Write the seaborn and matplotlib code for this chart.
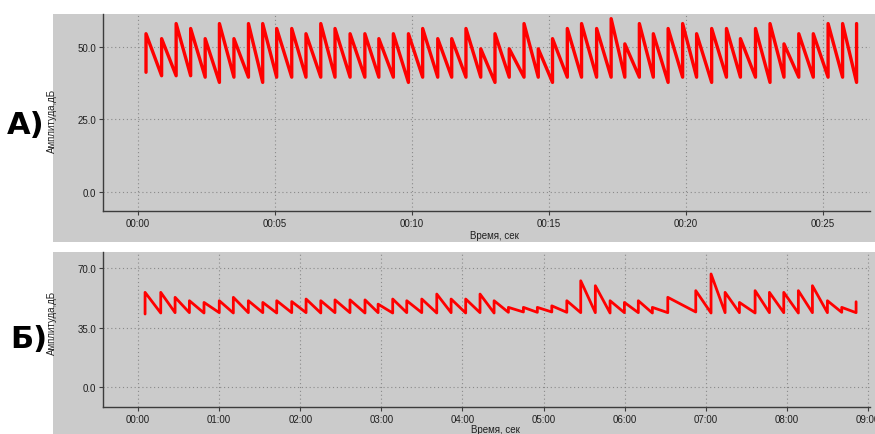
import pandas as pd
import matplotlib
matplotlib.use("Agg")
import matplotlib.pyplot as plt
import seaborn as sns
from matplotlib.patches import Rectangle
from matplotlib.ticker import FuncFormatter

# Panel A: recording over ~26 s (tooth start times, trough and peak levels, dB)
a_times = [0.29, 0.86, 1.39, 1.92, 2.45, 2.97, 3.50, 4.03, 4.55, 5.06,
           5.61, 6.13, 6.67, 7.19, 7.74, 8.28, 8.79, 9.32, 9.87, 10.39,
           10.94, 11.45, 11.97, 12.51, 13.03, 13.55, 14.09, 14.61, 15.13, 15.67,
           16.19, 16.74, 17.27, 17.77, 18.30, 18.81, 19.35, 19.88, 20.39, 20.94,
           21.48, 21.99, 22.54, 23.07, 23.58, 24.12, 24.65, 25.19, 25.72, 26.23]
a_peaks = [54.5, 52.8, 58.0, 56.3, 52.8, 58.0, 52.8, 58.0, 58.0, 56.3,
           56.3, 54.5, 58.0, 56.3, 54.5, 54.5, 52.8, 54.5, 54.5, 56.3,
           52.8, 52.8, 56.3, 49.3, 54.5, 49.3, 58.0, 49.3, 52.8, 56.3,
           58.0, 56.3, 59.7, 51.0, 58.0, 54.5, 56.3, 58.0, 54.5, 56.3,
           56.3, 52.8, 56.3, 58.0, 51.0, 54.5, 54.5, 58.0, 58.0, 58.0]
a_troughs = [41.2, 40.0, 40.0, 40.0, 39.5, 37.7, 39.5, 39.5, 37.7, 39.5,
             39.5, 39.5, 39.5, 39.5, 39.5, 39.5, 39.5, 39.5, 37.7, 39.5,
             39.5, 39.5, 39.5, 39.5, 37.7, 39.5, 39.5, 39.5, 37.7, 39.5,
             39.5, 39.5, 39.5, 39.5, 39.5, 39.5, 37.7, 39.5, 39.5, 37.7,
             39.5, 39.5, 39.5, 37.7, 39.5, 39.5, 39.5, 39.5, 39.5, 37.7]

# Panel B: recording over ~9 min (seconds)
b_times = [5.2, 16.8, 27.4, 38.0, 48.8, 60.1, 70.5, 81.6, 92.3, 102.6,
           113.7, 124.3, 135.2, 145.7, 156.8, 167.9, 177.6, 188.4, 198.8, 209.9,
           221.0, 231.6, 242.4, 253.0, 263.4, 274.0, 285.1, 295.4, 306.1, 317.2,
           327.5, 338.3, 349.2, 359.8, 370.1, 380.5, 391.9, 412.6, 423.9, 434.3,
           444.9, 456.5, 467.1, 477.7, 488.5, 498.9, 510.0, 520.6, 531.2]
b_peaks = [55.7, 55.7, 52.8, 50.8, 49.8, 50.8, 52.8, 50.8, 49.8, 50.8,
           50.3, 51.8, 50.8, 51.3, 51.3, 51.3, 48.8, 51.8, 50.8, 51.8,
           54.7, 51.8, 51.8, 54.7, 50.8, 46.9, 46.9, 46.9, 47.8, 50.8,
           62.5, 59.6, 50.8, 49.8, 50.8, 46.9, 52.8, 56.7, 66.5, 55.7,
           49.8, 56.7, 55.7, 55.7, 56.7, 59.6, 50.8, 46.9, 50.2]
b_troughs = [43.0, 43.6, 43.8, 43.8, 43.6, 43.8, 43.6, 43.8, 43.8, 43.6,
             43.8, 43.8, 43.6, 43.8, 43.8, 43.6, 43.8, 43.6, 43.8, 43.8,
             43.6, 43.8, 43.6, 43.8, 43.6, 44.0, 44.2, 44.0, 44.2, 44.0,
             43.8, 43.8, 43.6, 43.8, 43.8, 43.6, 43.8, 44.2, 43.6, 43.8,
             43.8, 43.6, 43.8, 43.8, 43.6, 43.8, 43.8, 44.0, 43.8]

a_xticks = [0, 5, 10, 15, 20, 25]
a_yticks = [0, 25, 50]
b_xticks = [0, 60, 120, 180, 240, 300, 360, 420, 480, 540]
b_yticks = [0, 35, 70]

y_label = "Амплитуда,дБ"
x_label = "Время, сек"

GRAY = "#cbcbcb"
RED = "#ff0000"
DARK = "#3c3c3c"
W, H = 875, 435


def sawtooth(times, troughs, peaks):
    t, y = [], []
    for ti, lo, hi in zip(times, troughs, peaks):
        t += [ti, ti]
        y += [lo, hi]
    return pd.DataFrame({"t": t, "amp": y})


def mmss(v, pos):
    v = int(round(v))
    return f"{v // 60:02d}:{v % 60:02d}"


sns.set_theme(style="white")
plt.rcParams["font.family"] = ["Liberation Sans", "DejaVu Sans"]

fig = plt.figure(figsize=(W / 100, H / 100), dpi=100, facecolor="white")

# gray panel backgrounds
for top, bot in [(15, 243), (253, 435)]:
    fig.add_artist(Rectangle((53 / W, 1 - bot / H), (W - 53) / W, (bot - top) / H,
                             transform=fig.transFigure, facecolor=GRAY,
                             edgecolor="none", zorder=0))


def px_axes(l, t, r, b):
    return fig.add_axes([l / W, 1 - b / H, (r - l) / W, (b - t) / H])


def style(ax, xticks, yticks, xlim, ylim, ylab_y, xlab_y):
    ax.set_facecolor(GRAY)
    ax.set_xlim(*xlim)
    ax.set_ylim(*ylim)
    ax.set_xticks(xticks)
    ax.set_yticks(yticks)
    ax.xaxis.set_major_formatter(FuncFormatter(mmss))
    ax.yaxis.set_major_formatter(FuncFormatter(lambda v, p: f"{v:.1f}"))
    ax.grid(True, color="#8a8a8a", linestyle=(0, (1, 2.5)), linewidth=0.8)
    for s in ["top", "right"]:
        ax.spines[s].set_visible(False)
    for s in ["left", "bottom"]:
        ax.spines[s].set_color(DARK)
        ax.spines[s].set_linewidth(1.0)
    ax.tick_params(labelsize=7, length=3, width=0.8, color=DARK,
                   labelcolor="#202020", pad=2, left=True, bottom=True)
    ax.set_ylabel(y_label, fontsize=7, color="#202020")
    ax.set_xlabel(x_label, fontsize=7, color="#202020")
    ax.yaxis.set_label_coords(-0.06, ylab_y)
    ax.xaxis.set_label_coords(0.511, xlab_y)


ax_a = px_axes(103, 15, 870, 211.7)
sns.lineplot(data=sawtooth(a_times, a_troughs, a_peaks), x="t", y="amp",
             sort=False, estimator=None, color=RED, linewidth=2.4, ax=ax_a)
style(ax_a, a_xticks, a_yticks, (-1.28, 26.72), (-6.55, 61.3), 0.46, -0.098)

ax_b = px_axes(103.3, 253.3, 870, 408.3)
sns.lineplot(data=sawtooth(b_times, b_troughs, b_peaks), x="t", y="amp",
             sort=False, estimator=None, color=RED, linewidth=2.0, ax=ax_b)
style(ax_b, b_xticks, b_yticks, (-25.7, 541.5), (-11.7, 79.2), 0.55, -0.106)

fig.text(26 / W, 1 - 125 / H, "А)", fontsize=22, fontweight="bold",
         color="black", ha="center", va="center",
         family=["DejaVu Sans"])
fig.text(29 / W, 1 - 340 / H, "Б)", fontsize=22, fontweight="bold",
         color="black", ha="center", va="center",
         family=["DejaVu Sans"])

fig.savefig("out.png", dpi=100, facecolor="white")
